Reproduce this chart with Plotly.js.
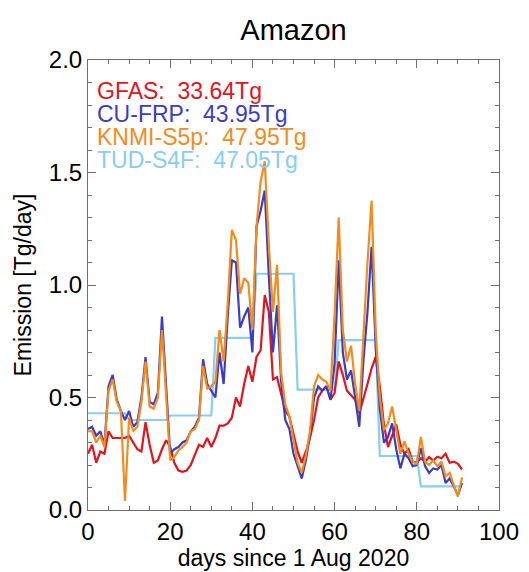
<!DOCTYPE html>
<html>
<head>
<meta charset="utf-8">
<script src="https://cdn.plot.ly/plotly-3.0.1.min.js"></script>
<style>
  html, body { margin: 0; padding: 0; background: #ffffff; }
  #chart { width: 529px; height: 572px; }
</style>
</head>
<body>
<div id="chart"></div>
<script>
// ---- data (daily emissions, Tg/day), day 0 = 1 Aug 2020 ----
const seriesNames = ["GFAS", "CU-FRP", "KNMI-S5p", "TUD-S4F"];
const totals = ["33.64Tg", "43.95Tg", "47.95Tg", "47.05Tg"];

const gfas = [
  0.25, 0.29, 0.21, 0.26, 0.25, 0.35, 0.32, 0.32, 0.32, 0.32,
  0.33, 0.30, 0.27, 0.26, 0.39, 0.29, 0.21, 0.22, 0.27, 0.31,
  0.28, 0.21, 0.175, 0.17, 0.175, 0.20, 0.245, 0.29, 0.28, 0.32,
  0.28, 0.32, 0.375, 0.375, 0.385, 0.41, 0.50, 0.46, 0.56, 0.64,
  0.57, 0.68, 0.71, 0.955, 0.88, 0.58, 0.59, 0.51, 0.44, 0.415,
  0.33, 0.26, 0.21, 0.26, 0.32, 0.40, 0.50, 0.53, 0.55, 0.49,
  0.52, 0.66, 0.60, 0.53, 0.51, 0.49, 0.43, 0.49, 0.56, 0.63,
  0.68, 0.55, 0.38, 0.28, 0.33, 0.38, 0.29, 0.25, 0.27, 0.215,
  0.21, 0.23, 0.215, 0.235, 0.22, 0.237, 0.23, 0.25, 0.21, 0.215,
  0.205, 0.18
];

const cufrp = [
  0.36, 0.37, 0.33, 0.35, 0.29, 0.55, 0.60, 0.49, 0.44, 0.40,
  0.44, 0.37, 0.39, 0.50, 0.68, 0.48, 0.47, 0.52, 0.86, 0.55,
  0.25, 0.27, 0.28, 0.30, 0.31, 0.35, 0.37, 0.41, 0.67, 0.56,
  0.53, 0.50, 0.70, 0.56, 0.86, 1.11, 1.10, 0.81, 0.86, 0.90,
  0.70, 1.26, 1.33, 1.42, 1.04, 0.70, 0.91, 0.57, 0.40, 0.36,
  0.25, 0.19, 0.14, 0.22, 0.33, 0.50, 0.55, 0.53, 0.55, 0.49,
  0.65, 1.11, 0.70, 0.58, 0.62, 0.50, 0.37, 0.66, 0.88, 1.17,
  0.72, 0.45, 0.30, 0.325, 0.385, 0.27, 0.185, 0.25, 0.23, 0.195,
  0.20, 0.275, 0.195, 0.165, 0.185, 0.18, 0.20, 0.12, 0.14, 0.105,
  0.065, 0.12
];

const knmi = [
  0.35, 0.35, 0.30, 0.33, 0.28, 0.53, 0.58, 0.48, 0.44, 0.04,
  0.41, 0.35, 0.37, 0.48, 0.66, 0.46, 0.45, 0.50, 0.80, 0.50,
  0.22, 0.235, 0.265, 0.28, 0.30, 0.35, 0.36, 0.40, 0.64, 0.54,
  0.55, 0.57, 0.80, 0.66, 0.92, 1.245, 1.20, 0.96, 1.03, 1.01,
  0.80, 1.26, 1.46, 1.55, 1.18, 0.88, 1.09, 0.61, 0.47, 0.415,
  0.31, 0.21, 0.165, 0.24, 0.35, 0.55, 0.60, 0.58, 0.57, 0.53,
  0.87, 1.30, 0.80, 0.66, 0.73, 0.56, 0.44, 0.80, 1.10, 1.375,
  0.80, 0.50, 0.355, 0.385, 0.46, 0.355, 0.25, 0.305, 0.25, 0.215,
  0.205, 0.325, 0.215, 0.20, 0.22, 0.195, 0.215, 0.15, 0.165, 0.11,
  0.06, 0.145
];

const tuds4f = [
  0.43, 0.43, 0.43, 0.43, 0.43, 0.43, 0.43, 0.43, 0.43, 0.43,
  0.40, 0.40, 0.40, 0.40, 0.40, 0.40, 0.40, 0.40, 0.40, 0.40,
  0.42, 0.42, 0.42, 0.42, 0.42, 0.42, 0.42, 0.42, 0.42, 0.42, 0.42,
  0.765, 0.765, 0.765, 0.765, 0.765, 0.765, 0.765, 0.765, 0.765, 0.765,
  1.05, 1.05, 1.05, 1.05, 1.05, 1.05, 1.05, 1.05, 1.05, 1.05,
  0.535, 0.535, 0.535, 0.535, 0.535, 0.535, 0.535, 0.535, 0.535, 0.535,
  0.755, 0.755, 0.755, 0.755, 0.755, 0.755, 0.755, 0.755, 0.755, 0.755,
  0.24, 0.24, 0.24, 0.24, 0.24, 0.24, 0.24, 0.24, 0.24, 0.24,
  0.105, 0.105, 0.105, 0.105, 0.105, 0.105, 0.105, 0.105, 0.105, 0.105, 0.105
];

const xTicks = [0, 20, 40, 60, 80, 100];
const yTicks = [0.0, 0.5, 1.0, 1.5, 2.0];

// day index for each daily sample
const days = gfas.map((_, i) => i);

// ---- styling ----
const colors = ["#e3141c", "#3c3cc4", "#f28c1c", "#88cdf2"];
const FONT = "Liberation Sans, Arial, Helvetica, sans-serif";

const allSeries = [gfas, cufrp, knmi, tuds4f];
const drawOrder = [3, 0, 1, 2];
const traces = drawOrder.map(k => ({
  x: days,
  y: allSeries[k],
  type: "scatter",
  mode: "lines",
  name: seriesNames[k],
  line: { color: colors[k], width: 2.2 },
  hoverinfo: "skip"
}));

const legendY = [1.862, 1.758, 1.656, 1.555];
const annotations = seriesNames.map((n, k) => ({
  xref: "x", yref: "y",
  x: 1.8, y: legendY[k],
  xanchor: "left", yanchor: "middle",
  text: n + ":\u00a0\u00a0" + totals[k],
  showarrow: false,
  font: { family: FONT, size: 23, color: colors[k] }
}));

const axisCommon = {
  showline: true,
  linecolor: "#707070",
  linewidth: 1,
  mirror: "ticks",
  ticks: "inside",
  ticklen: 8,
  tickwidth: 1,
  tickcolor: "#707070",
  showgrid: false,
  zeroline: false,
  tickfont: { family: FONT, size: 24, color: "#000000" }
};

const layout = {
  width: 529,
  height: 572,
  margin: { l: 88, r: 30, t: 60, b: 62 },
  paper_bgcolor: "#ffffff",
  plot_bgcolor: "#ffffff",
  showlegend: false,
  title: {
    text: "Amazon",
    font: { family: FONT, size: 29, color: "#000000" },
    x: 0.5, xref: "paper",
    y: 0.947, yref: "container", yanchor: "middle"
  },
  xaxis: Object.assign({}, axisCommon, {
    range: [0, 100],
    tickvals: xTicks,
    ticktext: xTicks.map(String),
    minor: { dtick: 5, tick0: 0, ticks: "inside", ticklen: 4, tickcolor: "#707070", showgrid: false },
    title: { text: "days since 1 Aug 2020", font: { family: FONT, size: 23, color: "#000000" }, standoff: 2 }
  }),
  yaxis: Object.assign({}, axisCommon, {
    range: [0, 2],
    tickvals: yTicks,
    ticktext: yTicks.map(v => v.toFixed(1)),
    minor: { dtick: 0.1, tick0: 0, ticks: "inside", ticklen: 4, tickcolor: "#707070", showgrid: false },
    title: { text: "Emission [Tg/day]", font: { family: FONT, size: 23, color: "#000000" }, standoff: 10 }
  }),
  annotations: annotations
};

Plotly.newPlot("chart", traces, layout, { staticPlot: true, displayModeBar: false });
</script>
</body>
</html>
